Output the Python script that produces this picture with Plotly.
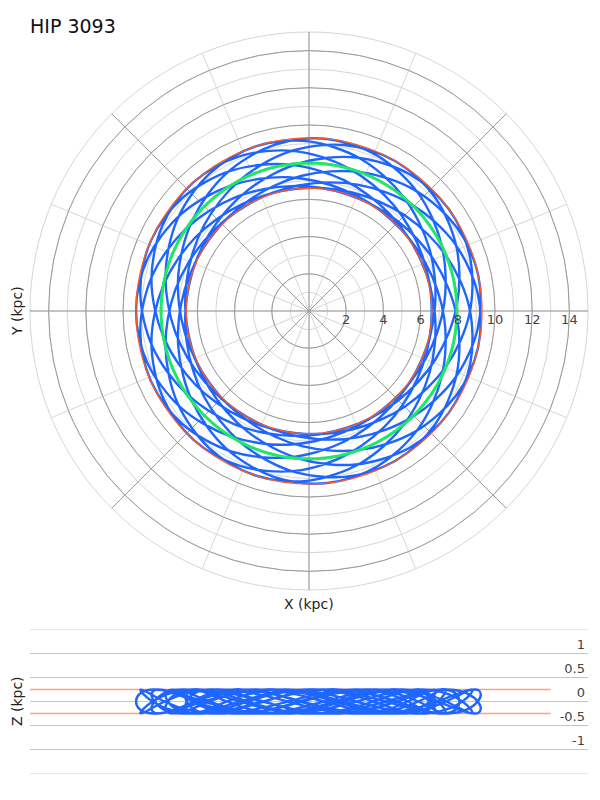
import numpy as np
import plotly.graph_objects as go

star_name = 'HIP 3093'

# orbit samples: galactocentric radius (kpc), azimuth (deg), height (kpc)
orbit_r = [
    6.60, 6.65, 6.78, 7.00, 7.28, 7.60, 7.95, 8.30, 8.63, 8.90, 9.12, 9.25, 9.30, 9.25, 9.12, 8.90, 8.63, 8.30, 7.95, 7.60, 7.28, 7.00, 6.78, 6.65,
    6.60, 6.65, 6.78, 7.00, 7.28, 7.60, 7.95, 8.30, 8.63, 8.90, 9.12, 9.25, 9.30, 9.25, 9.12, 8.90, 8.63, 8.30, 7.95, 7.60, 7.28, 7.00, 6.78, 6.65,
    6.60, 6.65, 6.78, 7.00, 7.28, 7.60, 7.95, 8.30, 8.63, 8.90, 9.12, 9.25, 9.30, 9.25, 9.12, 8.90, 8.63, 8.30, 7.95, 7.60, 7.28, 7.00, 6.78, 6.65,
    6.60, 6.65, 6.78, 7.00, 7.28, 7.60, 7.95, 8.30, 8.63, 8.90, 9.12, 9.25, 9.30, 9.25, 9.12, 8.90, 8.63, 8.30, 7.95, 7.60, 7.28, 7.00, 6.78, 6.65,
    6.60, 6.65, 6.78, 7.00, 7.28, 7.60, 7.95, 8.30, 8.63, 8.90, 9.12, 9.25, 9.30, 9.25, 9.12, 8.90, 8.63, 8.30, 7.95, 7.60, 7.28, 7.00, 6.78, 6.65,
    6.60, 6.65, 6.78, 7.00, 7.28, 7.60, 7.95, 8.30, 8.63, 8.90, 9.12, 9.25, 9.30, 9.25, 9.12, 8.90, 8.63, 8.30, 7.95, 7.60, 7.28, 7.00, 6.78, 6.65,
    6.60, 6.65, 6.78, 7.00, 7.28, 7.60, 7.95, 8.30, 8.63, 8.90, 9.12, 9.25, 9.30, 9.25, 9.12, 8.90, 8.63, 8.30, 7.95, 7.60, 7.28, 7.00, 6.78, 6.65,
    6.60, 6.65, 6.78, 7.00, 7.28, 7.60, 7.95, 8.30, 8.63, 8.90, 9.12, 9.25, 9.30, 9.25, 9.12, 8.90, 8.63, 8.30, 7.95, 7.60, 7.28, 7.00, 6.78, 6.65,
    6.60, 6.65, 6.78, 7.00, 7.28, 7.60, 7.95, 8.30, 8.63, 8.90, 9.12, 9.25, 9.30, 9.25, 9.12, 8.90, 8.63, 8.30, 7.95, 7.60, 7.28, 7.00, 6.78, 6.65,
    6.60, 6.65, 6.78, 7.00, 7.28, 7.60, 7.95, 8.30, 8.63, 8.90, 9.12, 9.25, 9.30, 9.25, 9.12, 8.90, 8.63, 8.30, 7.95, 7.60, 7.28, 7.00, 6.78, 6.65,
    6.60, 6.65, 6.78, 7.00, 7.28, 7.60, 7.95, 8.30, 8.63, 8.90, 9.12, 9.25, 9.30, 9.25, 9.12, 8.90, 8.63, 8.30, 7.95, 7.60, 7.28, 7.00, 6.78, 6.65,
    6.60, 6.65, 6.78, 7.00, 7.28, 7.60, 7.95, 8.30, 8.63, 8.90, 9.12, 9.25, 9.30, 9.25, 9.12, 8.90, 8.63, 8.30, 7.95, 7.60, 7.28, 7.00, 6.78, 6.65,
    6.60, 6.65, 6.78, 7.00, 7.28, 7.60, 7.95, 8.30, 8.63, 8.90, 9.12, 9.25, 9.30, 9.25, 9.12, 8.90, 8.63, 8.30, 7.95, 7.60, 7.28, 7.00, 6.78, 6.65,
    6.60, 6.65, 6.78, 7.00, 7.28, 7.60, 7.95, 8.30, 8.63, 8.90, 9.12, 9.25, 9.30, 9.25, 9.12, 8.90, 8.63, 8.30, 7.95, 7.60, 7.28, 7.00, 6.78, 6.65,
    6.60, 6.65, 6.78, 7.00, 7.28, 7.60, 7.95, 8.30, 8.63, 8.90, 9.12, 9.25, 9.30, 9.25, 9.12, 8.90, 8.63, 8.30, 7.95, 7.60, 7.28, 7.00, 6.78, 6.65,
    6.60,
]
orbit_phi = [
    0, 13, 26, 39, 51, 63, 74, 85, 95, 105, 114, 123, 132, 141, 150, 159, 169, 179, 190, 201, 213, 225, 238, 251,
    264, 277, 290, 303, 315, 327, 338, 349, 359, 369, 378, 387, 396, 405, 414, 423, 433, 443, 454, 465, 477, 489, 502, 515,
    528, 541, 554, 567, 579, 591, 602, 613, 623, 633, 642, 651, 660, 669, 678, 687, 697, 707, 718, 729, 741, 753, 766, 779,
    792, 805, 818, 831, 843, 855, 866, 877, 887, 897, 906, 915, 924, 933, 942, 951, 961, 971, 982, 993, 1005, 1017, 1030, 1043,
    1056, 1069, 1082, 1095, 1107, 1119, 1130, 1141, 1151, 1161, 1170, 1179, 1188, 1197, 1206, 1215, 1225, 1235, 1246, 1257, 1269, 1281, 1294, 1307,
    1320, 1333, 1346, 1359, 1371, 1383, 1394, 1405, 1415, 1425, 1434, 1443, 1452, 1461, 1470, 1479, 1489, 1499, 1510, 1521, 1533, 1545, 1558, 1571,
    1584, 1597, 1610, 1623, 1635, 1647, 1658, 1669, 1679, 1689, 1698, 1707, 1716, 1725, 1734, 1743, 1753, 1763, 1774, 1785, 1797, 1809, 1822, 1835,
    1848, 1861, 1874, 1887, 1899, 1911, 1922, 1933, 1943, 1953, 1962, 1971, 1980, 1989, 1998, 2007, 2017, 2027, 2038, 2049, 2061, 2073, 2086, 2099,
    2112, 2125, 2138, 2151, 2163, 2175, 2186, 2197, 2207, 2217, 2226, 2235, 2244, 2253, 2262, 2271, 2281, 2291, 2302, 2313, 2325, 2337, 2350, 2363,
    2376, 2389, 2402, 2415, 2427, 2439, 2450, 2461, 2471, 2481, 2490, 2499, 2508, 2517, 2526, 2535, 2545, 2555, 2566, 2577, 2589, 2601, 2614, 2627,
    2640, 2653, 2666, 2679, 2691, 2703, 2714, 2725, 2735, 2745, 2754, 2763, 2772, 2781, 2790, 2799, 2809, 2819, 2830, 2841, 2853, 2865, 2878, 2891,
    2904, 2917, 2930, 2943, 2955, 2967, 2978, 2989, 2999, 3009, 3018, 3027, 3036, 3045, 3054, 3063, 3073, 3083, 3094, 3105, 3117, 3129, 3142, 3155,
    3168, 3181, 3194, 3207, 3219, 3231, 3242, 3253, 3263, 3273, 3282, 3291, 3300, 3309, 3318, 3327, 3337, 3347, 3358, 3369, 3381, 3393, 3406, 3419,
    3432, 3445, 3458, 3471, 3483, 3495, 3506, 3517, 3527, 3537, 3546, 3555, 3564, 3573, 3582, 3591, 3601, 3611, 3622, 3633, 3645, 3657, 3670, 3683,
    3696, 3709, 3722, 3735, 3747, 3759, 3770, 3781, 3791, 3801, 3810, 3819, 3828, 3837, 3846, 3855, 3865, 3875, 3886, 3897, 3909, 3921, 3934, 3947,
    3960,
]
orbit_z = [
    0.00, 0.15, 0.24, 0.24, 0.15, 0.00, -0.15, -0.24, -0.24, -0.15,
    0.00, 0.15, 0.24, 0.24, 0.15, 0.00, -0.15, -0.24, -0.24, -0.15,
    0.00, 0.15, 0.24, 0.24, 0.15, 0.00, -0.15, -0.24, -0.24, -0.15,
    0.00, 0.15, 0.24, 0.24, 0.15, 0.00, -0.15, -0.24, -0.24, -0.15,
    0.00, 0.15, 0.24, 0.24, 0.15, 0.00, -0.15, -0.24, -0.24, -0.15,
    0.00, 0.15, 0.24, 0.24, 0.15, 0.00, -0.15, -0.24, -0.24, -0.15,
    0.00, 0.15, 0.24, 0.24, 0.15, 0.00, -0.15, -0.24, -0.24, -0.15,
    0.00, 0.15, 0.24, 0.24, 0.15, 0.00, -0.15, -0.24, -0.24, -0.15,
    0.00, 0.15, 0.24, 0.24, 0.15, 0.00, -0.15, -0.24, -0.24, -0.15,
    0.00, 0.15, 0.24, 0.24, 0.15, 0.00, -0.15, -0.24, -0.24, -0.15,
    0.00, 0.15, 0.24, 0.24, 0.15, 0.00, -0.15, -0.24, -0.24, -0.15,
    0.00, 0.15, 0.24, 0.24, 0.15, 0.00, -0.15, -0.24, -0.24, -0.15,
    0.00, 0.15, 0.24, 0.24, 0.15, 0.00, -0.15, -0.24, -0.24, -0.15,
    0.00, 0.15, 0.24, 0.24, 0.15, 0.00, -0.15, -0.24, -0.24, -0.15,
    0.00, 0.15, 0.24, 0.24, 0.15, 0.00, -0.15, -0.24, -0.24, -0.15,
    0.00, 0.15, 0.24, 0.24, 0.15, 0.00, -0.15, -0.24, -0.24, -0.15,
    0.00, 0.15, 0.24, 0.24, 0.15, 0.00, -0.15, -0.24, -0.24, -0.15,
    0.00, 0.15, 0.24, 0.24, 0.15, 0.00, -0.15, -0.24, -0.24, -0.15,
    0.00, 0.15, 0.24, 0.24, 0.15, 0.00, -0.15, -0.24, -0.24, -0.15,
    0.00, 0.15, 0.24, 0.24, 0.15, 0.00, -0.15, -0.24, -0.24, -0.15,
    0.00, 0.15, 0.24, 0.24, 0.15, 0.00, -0.15, -0.24, -0.24, -0.15,
    0.00, 0.15, 0.24, 0.24, 0.15, 0.00, -0.15, -0.24, -0.24, -0.15,
    0.00, 0.15, 0.24, 0.24, 0.15, 0.00, -0.15, -0.24, -0.24, -0.15,
    0.00, 0.15, 0.24, 0.24, 0.15, 0.00, -0.15, -0.24, -0.24, -0.15,
    0.00, 0.15, 0.24, 0.24, 0.15, 0.00, -0.15, -0.24, -0.24, -0.15,
    0.00, 0.15, 0.24, 0.24, 0.15, 0.00, -0.15, -0.24, -0.24, -0.15,
    0.00, 0.15, 0.24, 0.24, 0.15, 0.00, -0.15, -0.24, -0.24, -0.15,
    0.00, 0.15, 0.24, 0.24, 0.15, 0.00, -0.15, -0.24, -0.24, -0.15,
    0.00, 0.15, 0.24, 0.24, 0.15, 0.00, -0.15, -0.24, -0.24, -0.15,
    0.00, 0.15, 0.24, 0.24, 0.15, 0.00, -0.15, -0.24, -0.24, -0.15,
    0.00, 0.15, 0.24, 0.24, 0.15, 0.00, -0.15, -0.24, -0.24, -0.15,
    0.00, 0.15, 0.24, 0.24, 0.15, 0.00, -0.15, -0.24, -0.24, -0.15,
    0.00, 0.15, 0.24, 0.24, 0.15, 0.00, -0.15, -0.24, -0.24, -0.15,
    0.00, 0.15, 0.24, 0.24, 0.15, 0.00, -0.15, -0.24, -0.24, -0.15,
    0.00, 0.15, 0.24, 0.24, 0.15, 0.00, -0.15, -0.24, -0.24, -0.15,
    0.00, 0.15, 0.24, 0.24, 0.15, 0.00, -0.15, -0.24, -0.24, -0.15,
    0.00,
]

r_peri = 6.6
r_apo = 9.3
r_mean = 7.95
z_max = 0.25
z_line_x = [-15, 13]

radial_ticks = [2, 4, 6, 8, 10, 12, 14]
z_ticks = [-1, -0.5, 0, 0.5, 1]
z_ticktext = ['-1', '-0.5', '0', '0.5', '1']

blue = '#1f66ff'
green = '#1ee866'
orange = '#ff5a1f'
dark_grid = '#9a9a9a'
light_grid = '#d6d6d6'
font_family = 'DejaVu Sans, sans-serif'

circle_theta = np.linspace(0, 360, 361)
orbit_x = np.array(orbit_r) * np.cos(np.radians(orbit_phi))

traces = []
# a blank trace keeps the light-grid polar layer underneath
traces.append(go.Scatterpolar(
    r=[], theta=[], subplot='polar', mode='lines',
    showlegend=False, hoverinfo='skip'))

traces.append(go.Scatterpolar(
    r=orbit_r, theta=orbit_phi, subplot='polar2', mode='lines',
    line=dict(color=blue, width=2.4, shape='spline'), showlegend=False))
for rr in [r_peri, r_apo]:
    traces.append(go.Scatterpolar(
        r=[rr] * len(circle_theta), theta=circle_theta, subplot='polar2',
        mode='lines', line=dict(color=orange, width=1.3),
        showlegend=False, hoverinfo='skip'))
traces.append(go.Scatterpolar(
    r=[r_mean] * len(circle_theta), theta=circle_theta, subplot='polar2',
    mode='lines', line=dict(color=green, width=3),
    showlegend=False, hoverinfo='skip'))

for zz in [z_max, -z_max]:
    traces.append(go.Scatter(
        x=z_line_x, y=[zz, zz], xaxis='x', yaxis='y', mode='lines',
        line=dict(color=orange, width=1.5), opacity=0.55,
        showlegend=False, hoverinfo='skip'))
traces.append(go.Scatter(
    x=orbit_x, y=orbit_z, xaxis='x', yaxis='y', mode='lines',
    line=dict(color=blue, width=2.4, shape='spline'), showlegend=False))

polar_dom = dict(x=[0, 1], y=[0.247, 1])
label_font = dict(size=14, color='#222')
layout = go.Layout(
    width=584, height=784,
    margin=dict(l=22, r=4, t=24, b=19),
    paper_bgcolor='white', plot_bgcolor='white',
    font=dict(family=font_family, size=12, color='#444'),
    title=dict(text=star_name, x=0, xref='paper', xanchor='left',
               y=1 - 18 / 784, yref='container', yanchor='middle',
               font=dict(size=19, color='#111')),
    polar=dict(
        domain=polar_dom, bgcolor='white',
        radialaxis=dict(range=[0, 15], dtick=1, showticklabels=False, ticks='',
                        showline=False, gridcolor=light_grid, gridwidth=1),
        angularaxis=dict(dtick=22.5, showticklabels=False, ticks='',
                         showline=True, linecolor=light_grid,
                         gridcolor=light_grid, gridwidth=1),
    ),
    polar2=dict(
        domain=polar_dom, bgcolor='rgba(0,0,0,0)',
        radialaxis=dict(range=[0, 15], tickvals=radial_ticks, ticks='',
                        showline=False, angle=0, gridcolor=dark_grid,
                        tickfont=dict(size=13, color='#444')),
        angularaxis=dict(dtick=45, showticklabels=False, ticks='',
                         showline=False, gridcolor=dark_grid),
    ),
    xaxis=dict(domain=[0, 1], range=[-15, 15], showticklabels=False,
               showgrid=False, zeroline=False, ticks='',
               showline=True, mirror=True, linecolor='#e6e6e6'),
    yaxis=dict(domain=[0, 0.193], range=[-1.5, 1.5], tickvals=z_ticks,
               ticktext=z_ticktext, side='right', ticklabelposition='inside top',
               gridcolor='#c4c4c4', zeroline=False, ticks='',
               tickfont=dict(size=13, color='#444')),
    annotations=[
        dict(text='X (kpc)', x=0.5, y=0.228, xref='paper', yref='paper',
             xanchor='center', yanchor='middle', showarrow=False, font=label_font),
        dict(text='Y (kpc)', x=-0.0233, y=0.6235, xref='paper', yref='paper',
             xanchor='center', yanchor='middle', showarrow=False,
             textangle=-90, font=label_font),
        dict(text='Z (kpc)', x=-0.0233, y=0.097, xref='paper', yref='paper',
             xanchor='center', yanchor='middle', showarrow=False,
             textangle=-90, font=label_font),
    ],
)

fig = go.Figure(data=traces, layout=layout)
fig.write_html('out.html')
